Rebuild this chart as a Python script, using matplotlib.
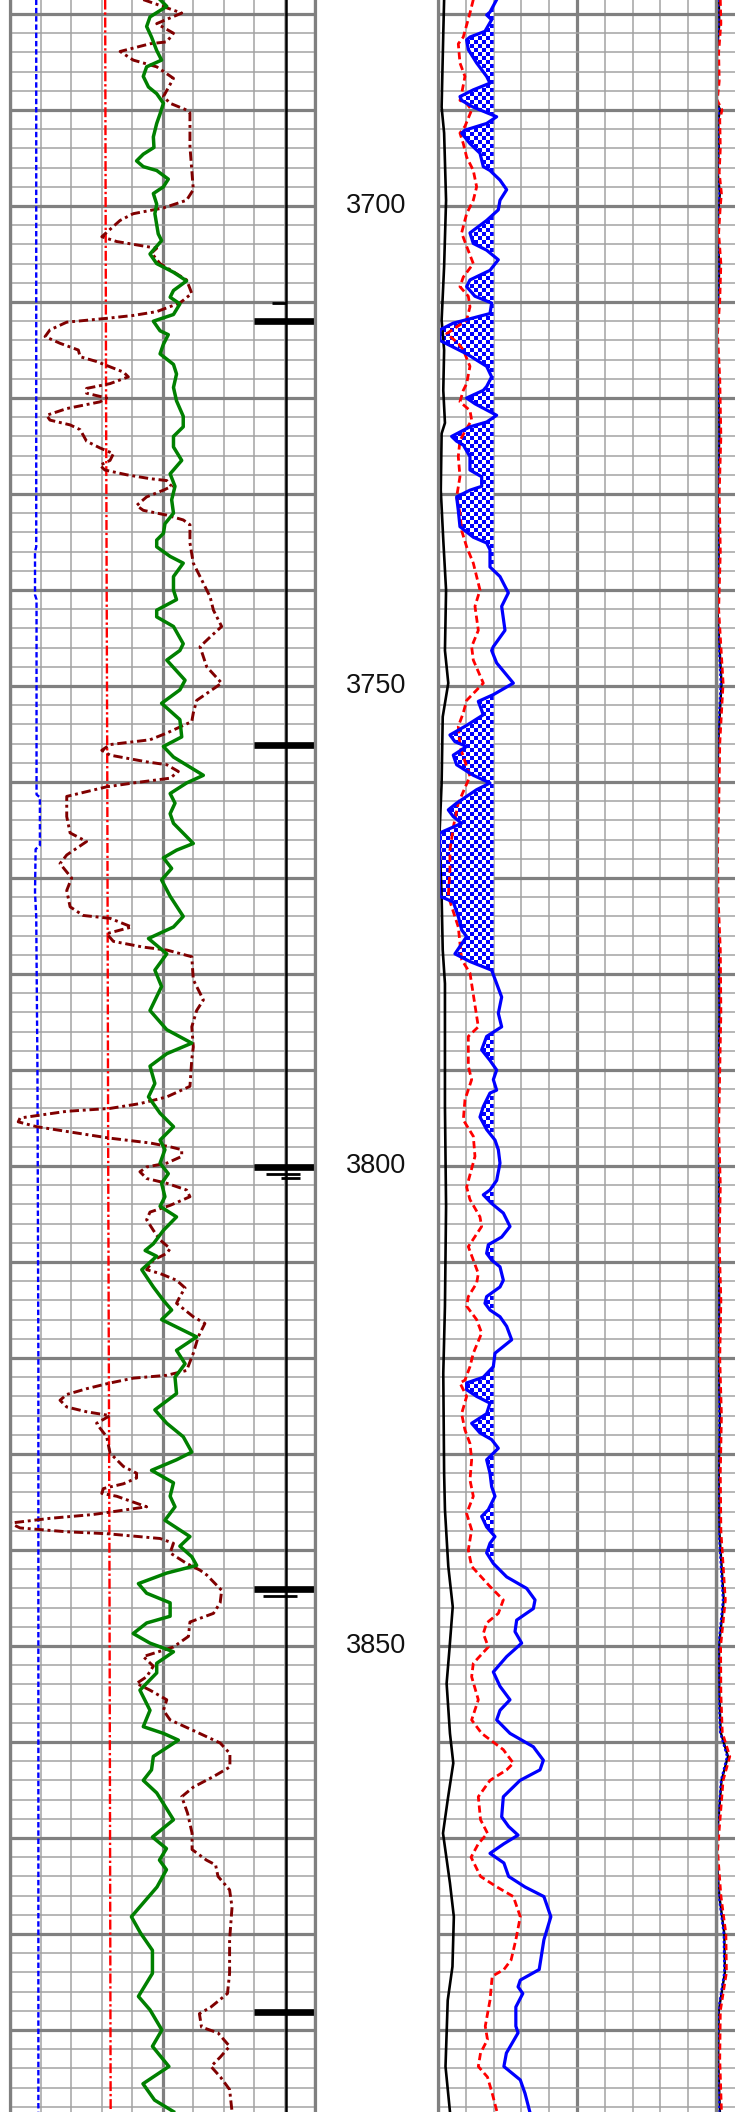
# Well log panel: left track (GR style curves), depth track, right track with shaded curve
import numpy as np
import matplotlib
matplotlib.use('Agg')
import matplotlib.pyplot as plt
from matplotlib.ticker import MultipleLocator
from matplotlib.path import Path

# depth window shown
top_depth = 3678.54
bottom_depth = 3898.54
depth_labels = [3700, 3750, 3800, 3850]

# ---- left track curves (value in track divisions 0-10) ----
# green solid curve: depth, value
green = np.array([
    [3678.5, 4.92], [3679.2, 5.14], [3680.3, 4.59], [3681.3, 4.48], [3682.4, 4.64],
    [3683.8, 4.81], [3684.8, 4.97], [3685.5, 4.48], [3686.5, 4.37], [3687.6, 4.54],
    [3688.3, 4.81], [3689.3, 5.03], [3690.4, 4.92], [3691.4, 4.81], [3692.8, 4.70],
    [3693.9, 4.72], [3694.6, 4.37], [3695.3, 4.15], [3695.9, 4.37], [3696.3, 4.81],
    [3697.2, 5.19], [3698.0, 5.03], [3698.7, 4.70], [3699.8, 4.81], [3700.8, 4.75],
    [3702.9, 4.86], [3703.6, 4.97], [3705.0, 4.59], [3706.0, 4.81], [3706.9, 5.36],
    [3707.8, 5.79], [3708.8, 5.36], [3709.5, 5.25], [3710.2, 5.57], [3711.3, 5.36],
    [3712.0, 4.70], [3713.0, 4.92], [3713.4, 5.19], [3714.4, 5.03], [3715.4, 4.92],
    [3716.5, 5.36], [3717.5, 5.46], [3718.9, 5.36], [3720.3, 5.46], [3721.9, 5.68],
    [3723.0, 5.68], [3724.0, 5.36], [3725.1, 5.36], [3726.5, 5.63], [3727.9, 5.25],
    [3729.2, 5.41], [3730.6, 5.30], [3732.0, 5.36], [3733.1, 5.08], [3734.1, 5.03],
    [3734.8, 4.81], [3735.5, 4.81], [3736.5, 5.25], [3737.2, 5.68], [3738.6, 5.36],
    [3740.0, 5.36], [3741.0, 5.46], [3742.1, 4.81], [3742.8, 4.81], [3743.8, 5.36],
    [3745.6, 5.68], [3746.3, 5.57], [3747.3, 5.14], [3749.4, 5.74], [3750.4, 5.57],
    [3751.8, 4.97], [3753.5, 5.57], [3755.3, 5.63], [3756.3, 5.03], [3757.4, 5.36],
    [3759.3, 6.34], [3760.1, 5.79], [3761.2, 5.25], [3762.2, 5.41], [3763.3, 5.25],
    [3764.3, 5.36], [3766.4, 6.01], [3767.1, 5.46], [3767.9, 5.03], [3769.0, 5.30],
    [3770.2, 4.97], [3771.9, 5.25], [3774.0, 5.68], [3775.1, 5.36], [3776.3, 4.54],
    [3777.9, 5.14], [3779.6, 4.75], [3781.3, 4.97], [3783.8, 4.59], [3785.8, 5.14],
    [3787.2, 5.96], [3788.3, 5.14], [3789.6, 4.59], [3791.4, 4.75], [3792.8, 4.54],
    [3794.5, 4.92], [3795.9, 5.36], [3797.3, 4.92], [3798.3, 5.08], [3799.7, 4.92],
    [3800.8, 5.19], [3801.8, 4.97], [3803.2, 5.08], [3804.2, 4.92], [3805.3, 5.46],
    [3806.7, 5.03], [3808.1, 4.70], [3808.8, 4.43], [3809.4, 4.81], [3810.8, 4.32],
    [3812.6, 4.70], [3814.0, 5.03], [3815.0, 5.30], [3816.0, 4.97], [3817.8, 6.12],
    [3819.2, 5.46], [3820.6, 5.74], [3822.0, 5.41], [3823.7, 5.46], [3825.4, 4.75],
    [3826.8, 5.14], [3828.2, 5.68], [3829.8, 5.96], [3830.6, 5.46], [3831.7, 4.64],
    [3833.0, 5.36], [3834.4, 5.25], [3835.5, 5.41], [3836.9, 5.08], [3838.6, 5.90],
    [3839.6, 5.57], [3840.7, 5.96], [3841.6, 6.12], [3842.4, 5.14], [3843.5, 4.21],
    [3844.5, 4.48], [3845.5, 5.25], [3846.9, 5.25], [3847.6, 4.48], [3848.7, 4.04],
    [3849.7, 4.59], [3850.6, 5.36], [3851.8, 4.81], [3852.8, 4.81], [3854.6, 4.26],
    [3856.7, 4.59], [3858.4, 4.37], [3859.1, 5.03], [3859.8, 5.52], [3861.5, 4.70],
    [3862.9, 4.64], [3864.0, 4.37], [3865.3, 4.81], [3868.1, 5.36], [3869.9, 4.67],
    [3871.1, 5.13], [3872.3, 4.90], [3873.3, 5.13], [3875.1, 4.82], [3876.5, 4.44],
    [3878.2, 3.98], [3879.9, 4.28], [3881.7, 4.67], [3884.1, 4.67], [3886.5, 4.21],
    [3887.9, 4.59], [3890.0, 4.98], [3891.7, 4.67], [3893.8, 5.21], [3895.6, 4.36],
    [3897.3, 4.74], [3898.5, 5.36]])

# dark red dash-dot curve: depth, value
maroon = np.array([
    [3678.5, 4.37], [3679.9, 5.63], [3681.0, 4.81], [3682.0, 5.36], [3682.9, 5.14],
    [3683.1, 4.59], [3683.9, 3.61], [3684.8, 4.04], [3685.5, 4.81], [3686.7, 5.36],
    [3688.6, 5.03], [3689.3, 5.25], [3690.0, 5.79], [3690.3, 5.90], [3693.8, 5.90],
    [3698.3, 6.01], [3699.4, 5.79], [3700.2, 5.03], [3700.8, 4.04], [3701.5, 3.61],
    [3703.2, 3.01], [3703.7, 3.50], [3704.1, 4.26], [3704.4, 4.81], [3704.9, 4.64],
    [3706.0, 4.92], [3707.7, 5.79], [3709.1, 5.96], [3710.1, 5.57], [3711.0, 4.81],
    [3711.4, 4.04], [3711.7, 3.17], [3712.1, 1.86], [3712.9, 1.31], [3713.6, 1.15],
    [3714.3, 1.64], [3715.0, 2.24], [3715.7, 2.30], [3716.2, 2.84], [3717.3, 3.72],
    [3717.8, 3.88], [3718.5, 3.28], [3719.0, 2.51], [3719.5, 2.51], [3720.0, 3.17],
    [3720.4, 2.95], [3721.1, 1.86], [3721.8, 1.20], [3722.3, 1.31], [3722.8, 1.97],
    [3723.3, 2.30], [3724.5, 2.51], [3725.2, 2.95], [3725.8, 3.39], [3726.5, 3.28],
    [3727.0, 2.95], [3727.5, 3.11], [3728.0, 3.83], [3728.4, 4.59], [3728.6, 5.14],
    [3729.2, 5.30], [3729.6, 5.03], [3730.3, 4.48], [3731.2, 4.15], [3731.7, 4.37],
    [3732.2, 5.14], [3732.7, 5.68], [3733.2, 5.90], [3735.1, 5.90], [3737.2, 6.01],
    [3739.3, 6.34], [3740.7, 6.56], [3742.1, 6.67], [3743.8, 6.94], [3744.9, 6.56],
    [3745.9, 6.23], [3748.0, 6.45], [3749.7, 6.94], [3751.5, 6.12], [3752.8, 6.01],
    [3753.7, 5.96], [3754.9, 5.14], [3755.6, 4.59], [3756.1, 3.28], [3756.7, 3.01],
    [3757.2, 3.28], [3757.9, 4.48], [3758.2, 5.14], [3758.9, 5.52], [3759.6, 5.25],
    [3760.1, 4.04], [3760.5, 3.17], [3761.5, 1.86], [3763.6, 1.86], [3765.3, 1.97],
    [3766.2, 2.51], [3767.6, 1.86], [3768.5, 1.64], [3770.0, 2.02], [3771.3, 1.86],
    [3773.0, 1.97], [3773.9, 2.40], [3774.2, 3.28], [3775.1, 3.99], [3775.8, 3.17],
    [3776.6, 3.39], [3777.2, 4.37], [3777.5, 5.14], [3778.2, 5.96], [3780.6, 6.01],
    [3782.7, 6.34], [3783.8, 6.12], [3785.5, 5.96], [3787.6, 6.01], [3788.9, 5.96],
    [3791.7, 5.90], [3792.8, 5.14], [3793.5, 4.26], [3794.0, 3.28], [3794.3, 1.86],
    [3795.0, 0.33], [3795.4, 0.27], [3795.9, 0.87], [3796.4, 1.86], [3797.1, 3.28],
    [3797.6, 4.59], [3798.0, 5.25], [3798.3, 5.63], [3799.0, 5.63], [3799.7, 5.14],
    [3800.1, 4.48], [3800.6, 4.26], [3801.3, 4.48], [3801.8, 5.14], [3802.5, 5.79],
    [3803.2, 5.90], [3804.1, 5.25], [3804.8, 4.59], [3805.6, 4.48], [3806.7, 4.70],
    [3807.7, 4.92], [3808.6, 5.25], [3809.1, 5.14], [3809.8, 4.70], [3810.8, 4.48],
    [3811.2, 4.92], [3811.9, 5.46], [3812.7, 5.74], [3813.6, 5.57], [3814.3, 5.46],
    [3815.7, 6.01], [3816.4, 6.39], [3817.8, 6.17], [3819.5, 6.01], [3821.3, 5.79],
    [3821.8, 5.14], [3822.1, 4.04], [3822.6, 3.28], [3823.2, 2.51], [3823.8, 1.86],
    [3824.4, 1.64], [3825.1, 1.86], [3825.6, 2.51], [3826.0, 3.28], [3826.8, 2.84],
    [3827.3, 2.95], [3828.2, 3.17], [3829.9, 3.28], [3831.3, 3.72], [3832.0, 4.15],
    [3832.5, 4.15], [3833.1, 3.72], [3833.6, 3.06], [3834.1, 3.01], [3834.4, 3.50],
    [3835.5, 4.48], [3835.8, 3.83], [3836.3, 2.73], [3836.7, 1.31], [3837.2, 0.00],
    [3837.7, 0.33], [3838.1, 1.86], [3838.3, 3.17], [3838.8, 4.92], [3839.3, 5.36],
    [3840.3, 5.25], [3841.4, 5.79], [3842.1, 6.23], [3842.6, 6.45], [3844.2, 6.94],
    [3845.5, 6.89], [3846.6, 6.67], [3847.5, 5.90], [3849.0, 5.85], [3850.1, 5.36],
    [3851.1, 4.37], [3852.1, 4.70], [3853.2, 4.48], [3853.9, 4.15], [3854.6, 4.59],
    [3855.6, 5.14], [3856.7, 5.03], [3857.7, 5.25], [3858.8, 6.01], [3860.1, 6.89],
    [3861.2, 7.21], [3862.6, 7.21], [3863.6, 6.67], [3864.7, 6.01], [3865.7, 5.63],
    [3867.4, 5.82], [3869.5, 5.97], [3871.2, 5.97], [3872.3, 6.44], [3872.8, 6.74],
    [3874.0, 6.82], [3875.4, 7.20], [3877.2, 7.28], [3880.6, 7.20], [3884.1, 7.20],
    [3886.2, 7.13], [3887.6, 6.59], [3888.3, 6.21], [3889.7, 6.28], [3890.3, 6.82],
    [3891.7, 7.20], [3892.8, 6.90], [3893.8, 6.59], [3894.9, 6.90], [3896.2, 7.20],
    [3898.5, 7.28]])

# blue dashed curve (left track)
lt_blue = np.array([
    [3678.5, 0.86], [3735.5, 0.86], [3736.0, 0.82], [3740.5, 0.82], [3741.0, 0.87],
    [3761.3, 0.87], [3761.6, 0.98], [3766.6, 0.98], [3767.0, 0.84], [3771.5, 0.82],
    [3774.0, 0.86], [3790.0, 0.90], [3820.0, 0.93], [3860.0, 0.93], [3898.5, 0.93]])

# red dash-dot curve (left track)
lt_red = np.array([
    [3678.5, 3.12], [3720.0, 3.15], [3760.0, 3.19], [3800.0, 3.22], [3840.0, 3.26],
    [3898.5, 3.30]])

# black line (left track) and its marks
lt_black = np.array([[3678.5, 9.05], [3898.5, 9.05]])
mark_depth = [3712.0, 3756.1, 3800.1, 3844.1, 3888.1]
small_mark_depth = [3710.1, 3800.8, 3801.3, 3844.8]
small_mark_left = [8.6, 8.4, 8.9, 8.3]
small_mark_right = [9.05, 9.5, 9.5, 9.4]

# ---- right track curves (value in track divisions 0-10) ----
rt_black = np.array([
    [3678.5, 0.22], [3682.0, 0.19], [3689.7, 0.13], [3692.4, 0.22], [3699.4, 0.29],
    [3706.3, 0.22], [3711.9, 0.13], [3715.0, 0.22], [3719.2, 0.19], [3722.6, 0.25],
    [3723.7, 0.13], [3729.6, 0.10], [3734.8, 0.19], [3740.0, 0.29], [3746.3, 0.25],
    [3749.7, 0.37], [3753.2, 0.17], [3760.1, 0.13], [3765.7, 0.05], [3771.9, 0.13],
    [3777.5, 0.17], [3781.0, 0.25], [3786.9, 0.25], [3793.8, 0.25], [3804.2, 0.29],
    [3814.6, 0.25], [3821.6, 0.19], [3832.0, 0.22], [3835.8, 0.25], [3841.7, 0.37],
    [3845.9, 0.53], [3850.4, 0.41], [3853.9, 0.31], [3859.1, 0.43], [3862.2, 0.55],
    [3866.0, 0.35], [3869.5, 0.18], [3874.7, 0.43], [3878.2, 0.57], [3883.4, 0.52],
    [3886.9, 0.35], [3893.8, 0.27], [3898.5, 0.43]])

rt_red = np.array([
    [3678.5, 1.27], [3679.9, 1.15], [3682.4, 0.91], [3683.1, 0.73], [3685.1, 0.79],
    [3686.5, 0.97], [3688.3, 0.85], [3689.0, 0.79], [3689.3, 1.03], [3690.0, 1.21],
    [3691.7, 0.97], [3692.4, 0.79], [3693.5, 0.91], [3694.9, 1.03], [3696.3, 1.27],
    [3698.0, 1.39], [3699.4, 1.27], [3700.8, 1.03], [3702.8, 0.85], [3704.2, 1.03],
    [3706.0, 1.27], [3707.4, 0.91], [3708.4, 0.79], [3709.4, 1.09], [3710.5, 1.15],
    [3711.9, 1.03], [3713.3, 0.31], [3714.3, 0.73], [3715.0, 0.91], [3716.7, 1.15],
    [3718.5, 1.03], [3719.2, 0.91], [3720.4, 0.79], [3721.3, 1.15], [3722.3, 1.21],
    [3724.4, 0.79], [3726.1, 0.73], [3728.2, 0.79], [3730.3, 0.67], [3732.0, 0.79],
    [3733.8, 0.85], [3735.5, 1.03], [3737.2, 1.27], [3740.0, 1.51], [3741.7, 1.33],
    [3744.2, 1.45], [3745.9, 1.21], [3747.3, 1.27], [3749.7, 1.63], [3751.5, 1.03],
    [3752.8, 0.91], [3754.2, 0.73], [3756.3, 0.79], [3759.4, 1.15], [3762.2, 0.73],
    [3764.7, 0.55], [3767.1, 0.43], [3769.2, 0.43], [3771.9, 0.37], [3775.1, 0.73],
    [3778.5, 0.85], [3779.9, 1.15], [3785.5, 1.45], [3786.5, 1.09], [3789.6, 1.09],
    [3791.0, 1.21], [3793.1, 0.97], [3795.2, 0.91], [3796.9, 1.27], [3799.0, 1.33],
    [3802.2, 1.03], [3803.5, 1.15], [3805.3, 1.51], [3806.3, 1.57], [3808.4, 1.09],
    [3809.8, 1.27], [3811.2, 1.45], [3812.2, 1.39], [3813.6, 1.09], [3814.6, 1.03],
    [3816.0, 1.39], [3817.4, 1.57], [3819.5, 1.27], [3820.9, 1.15], [3822.3, 0.97],
    [3822.6, 0.79], [3824.0, 1.03], [3825.8, 0.85], [3827.5, 0.97], [3828.9, 1.15],
    [3830.6, 1.21], [3832.7, 1.15], [3834.4, 1.27], [3836.2, 1.03], [3837.9, 1.21],
    [3840.0, 1.09], [3841.7, 1.21], [3843.8, 1.87], [3845.2, 2.35], [3846.6, 2.17],
    [3847.6, 1.75], [3848.7, 1.63], [3850.1, 1.81], [3851.8, 1.27], [3853.2, 1.21],
    [3855.6, 1.45], [3857.7, 1.21], [3859.1, 1.57], [3860.8, 2.35], [3862.2, 2.71],
    [3862.9, 2.47], [3864.0, 1.87], [3865.7, 1.45], [3868.1, 1.53], [3869.5, 1.78],
    [3870.6, 1.45], [3872.0, 1.19], [3874.0, 1.53], [3875.1, 2.12], [3876.1, 2.71],
    [3878.2, 2.96], [3880.6, 2.80], [3882.7, 2.63], [3883.7, 2.37], [3884.4, 1.95],
    [3886.9, 1.87], [3889.6, 1.70], [3891.0, 1.78], [3892.4, 1.53], [3893.8, 1.45],
    [3894.9, 1.78], [3896.6, 1.95], [3898.5, 2.12]])

rt_blue = np.array([
    [3678.5, 2.11], [3679.8, 1.87], [3680.1, 1.75], [3680.6, 1.93], [3681.8, 1.69],
    [3682.4, 1.15], [3682.7, 1.03], [3683.7, 1.09], [3685.1, 1.39], [3686.5, 1.75],
    [3687.2, 1.87], [3687.9, 1.27], [3688.6, 0.79], [3689.0, 0.85], [3689.7, 1.27],
    [3690.7, 2.11], [3691.4, 1.75], [3692.1, 0.97], [3692.4, 0.85], [3693.5, 1.15],
    [3694.5, 1.51], [3695.9, 1.63], [3696.3, 1.87], [3697.3, 2.23], [3698.3, 2.47],
    [3699.4, 2.23], [3700.4, 2.17], [3701.5, 1.75], [3702.8, 1.15], [3703.9, 1.27],
    [3704.6, 1.75], [3705.6, 2.17], [3706.7, 1.87], [3707.7, 1.15], [3708.4, 1.03],
    [3709.4, 1.33], [3710.1, 1.93], [3711.2, 1.87], [3712.2, 0.55], [3712.9, 0.07],
    [3714.0, 0.07], [3714.7, 0.55], [3715.4, 1.03], [3716.7, 1.75], [3717.8, 1.93],
    [3718.8, 1.75], [3719.2, 1.63], [3720.0, 1.03], [3720.6, 1.33], [3721.8, 2.11],
    [3722.5, 1.75], [3723.0, 1.15], [3724.0, 0.49], [3724.5, 0.67], [3724.9, 0.91],
    [3726.1, 1.15], [3727.5, 1.15], [3728.2, 1.57], [3729.2, 1.57], [3729.6, 1.15],
    [3730.3, 0.67], [3731.7, 0.73], [3733.4, 0.79], [3734.5, 1.27], [3735.1, 1.75],
    [3735.8, 1.87], [3737.6, 1.87], [3738.6, 2.23], [3740.3, 2.53], [3741.7, 2.29],
    [3744.2, 2.41], [3745.9, 1.99], [3746.3, 1.93], [3747.6, 2.11], [3749.7, 2.71],
    [3750.9, 1.99], [3751.6, 1.45], [3753.0, 1.63], [3754.1, 1.03], [3755.1, 0.43],
    [3755.8, 0.61], [3756.3, 1.03], [3757.2, 0.55], [3758.2, 0.67], [3759.3, 1.27],
    [3760.1, 1.87], [3760.8, 1.39], [3762.2, 0.67], [3762.9, 0.37], [3763.6, 0.55],
    [3764.3, 0.85], [3765.3, 0.07], [3767.1, 0.05], [3770.6, 0.05], [3771.9, 0.07],
    [3772.5, 0.55], [3774.0, 0.73], [3775.4, 0.85], [3776.1, 1.03], [3777.9, 0.61],
    [3778.7, 1.15], [3779.6, 1.93], [3782.4, 2.29], [3784.1, 2.17], [3785.5, 2.29],
    [3786.5, 1.75], [3787.9, 1.57], [3789.0, 1.87], [3790.0, 2.11], [3791.0, 1.99],
    [3792.1, 2.11], [3792.4, 1.87], [3793.8, 1.63], [3794.9, 1.51], [3796.2, 1.75],
    [3797.3, 2.05], [3798.3, 2.17], [3799.7, 2.23], [3801.5, 2.11], [3802.5, 1.87],
    [3803.0, 1.63], [3803.9, 1.93], [3804.9, 2.35], [3806.3, 2.59], [3807.4, 2.29],
    [3808.2, 1.81], [3809.1, 1.75], [3809.8, 1.93], [3810.5, 2.23], [3811.9, 2.35],
    [3812.6, 2.23], [3813.6, 1.75], [3814.3, 1.69], [3815.0, 1.87], [3815.7, 2.23],
    [3816.7, 2.47], [3818.1, 2.65], [3819.5, 2.05], [3820.9, 1.99], [3822.0, 1.63],
    [3822.6, 1.03], [3823.3, 1.03], [3824.0, 1.39], [3824.7, 1.87], [3825.8, 1.75],
    [3826.8, 1.21], [3827.8, 1.51], [3828.5, 1.93], [3829.4, 2.17], [3830.6, 1.75],
    [3832.0, 1.87], [3833.4, 1.93], [3834.4, 2.05], [3835.8, 1.81], [3836.5, 1.57],
    [3837.6, 1.75], [3838.6, 2.05], [3839.3, 1.87], [3840.3, 1.75], [3841.4, 1.99],
    [3842.8, 2.47], [3844.0, 3.19], [3845.2, 3.49], [3846.1, 3.43], [3847.3, 2.83],
    [3848.5, 2.77], [3849.7, 3.01], [3851.1, 2.47], [3852.7, 1.99], [3854.2, 2.23],
    [3855.6, 2.59], [3856.7, 2.23], [3857.7, 2.11], [3859.1, 2.59], [3860.5, 3.43],
    [3861.9, 3.79], [3862.9, 3.67], [3864.0, 2.95], [3865.7, 2.35], [3867.8, 2.29],
    [3868.8, 2.54], [3869.7, 2.88], [3870.6, 2.37], [3871.6, 1.87], [3872.6, 2.37],
    [3874.0, 2.54], [3875.1, 3.13], [3876.1, 3.81], [3878.2, 4.06], [3880.6, 3.81],
    [3883.7, 3.64], [3884.8, 2.96], [3885.5, 2.88], [3886.2, 3.05], [3887.6, 2.80],
    [3889.6, 2.80], [3890.3, 2.88], [3892.4, 2.46], [3893.8, 2.37], [3895.2, 2.96],
    [3896.6, 3.13], [3898.5, 3.30]])
blue_cutoff = 2.0

# ---- far right track (only its left edge is visible) ----
far_depth = [3678.5, 3681.0, 3684.0, 3687.0, 3689.0, 3690.0, 3691.0, 3694.0, 3696.5, 3698.7,
             3700.0, 3702.8, 3706.0, 3709.8, 3713.3, 3718.0, 3724.0, 3730.0, 3736.0, 3742.0,
             3749.7, 3756.0, 3763.0, 3767.0, 3772.0, 3777.5, 3784.0, 3790.0, 3796.0, 3802.0,
             3808.0, 3814.0, 3820.0, 3826.0, 3832.0, 3838.0, 3845.2, 3850.0, 3855.0, 3859.0,
             3861.5, 3864.0, 3871.3, 3876.0, 3880.0, 3884.0, 3888.0, 3893.0, 3898.5]
far_black = [0.10, 0.12, 0.03, 0.05, 0.00, 0.15, 0.08, 0.10, 0.06, 0.14,
             0.10, 0.04, 0.12, 0.08, 0.00, 0.08, 0.12, 0.06, 0.10, 0.05,
             0.20, 0.08, 0.04, 0.00, 0.02, 0.10, 0.12, 0.08, 0.05, 0.10,
             0.06, 0.12, 0.08, 0.14, 0.10, 0.12, 0.28, 0.11, 0.12, 0.17,
             0.43, 0.20, 0.00, 0.12, 0.30, 0.32, 0.10, 0.08, 0.14]
far_red = [0.16, 0.18, 0.10, 0.12, 0.05, 0.22, 0.14, 0.16, 0.12, 0.20,
           0.16, 0.10, 0.18, 0.14, 0.06, 0.14, 0.18, 0.12, 0.16, 0.10,
           0.26, 0.14, 0.10, 0.06, 0.08, 0.16, 0.18, 0.14, 0.10, 0.16,
           0.12, 0.18, 0.14, 0.20, 0.16, 0.18, 0.34, 0.17, 0.18, 0.23,
           0.50, 0.26, 0.06, 0.18, 0.36, 0.38, 0.16, 0.14, 0.20]
far_blue = [0.08, 0.10, 0.02, 0.04, 0.00, 0.12, 0.06, 0.08, 0.05, 0.12,
            0.08, 0.03, 0.10, 0.06, 0.00, 0.06, 0.10, 0.05, 0.08, 0.04,
            0.17, 0.06, 0.03, 0.00, 0.02, 0.08, 0.10, 0.06, 0.04, 0.08,
            0.05, 0.10, 0.06, 0.12, 0.08, 0.10, 0.25, 0.09, 0.10, 0.15,
            0.40, 0.18, 0.00, 0.10, 0.28, 0.30, 0.08, 0.06, 0.12]

GRID_THICK = '#808080'
GRID_THIN = '#a3a3a3'


def setup_track(ax):
    ax.set_xlim(0, 10)
    ax.set_ylim(bottom_depth, top_depth)
    ax.xaxis.set_major_locator(MultipleLocator(5))
    ax.xaxis.set_minor_locator(MultipleLocator(1))
    ax.yaxis.set_major_locator(MultipleLocator(10))
    ax.yaxis.set_minor_locator(MultipleLocator(2))
    ax.grid(which='major', color=GRID_THICK, lw=2.3)
    ax.grid(which='minor', color=GRID_THIN, lw=1.1)
    ax.set_axisbelow(True)
    ax.tick_params(which='both', length=0, labelbottom=False, labelleft=False)
    for side in ['top', 'bottom']:
        ax.spines[side].set_visible(False)
    for side in ['left', 'right']:
        ax.spines[side].set_color(GRID_THICK)
        ax.spines[side].set_linewidth(2.3)


W, H = 735, 2112
fig = plt.figure(figsize=(W / 100, H / 100), dpi=100)

ax_l = fig.add_axes([10 / W, 0, 305 / W, 1])
ax_d = fig.add_axes([315 / W, 0, 123 / W, 1])
ax_far = fig.add_axes([716 / W, 0, 278 / W, 1])
ax_r = fig.add_axes([438 / W, 0, 278 / W, 1])

for ax in (ax_l, ax_r, ax_far):
    setup_track(ax)

# left track
ax_l.plot(lt_blue[:, 1], lt_blue[:, 0], color='#0000ff', lw=1.7, dashes=(2.3, 1.2))
ax_l.plot(lt_red[:, 1], lt_red[:, 0], color='#ff0000', lw=1.7, dashes=(4.2, 1.2, 1, 1.2))
ax_l.plot(lt_black[:, 1], lt_black[:, 0], color='black', lw=1.8)
ax_l.hlines(mark_depth, 8.0, 10.0, color='black', lw=4.8)
ax_l.hlines(small_mark_depth, small_mark_left, small_mark_right, color='black', lw=2.0)
ax_l.plot(maroon[:, 1], maroon[:, 0], color='#800000', lw=2.1,
          dashes=(3.2, 1.3, 1, 1.3), solid_joinstyle='round')
ax_l.plot(green[:, 1], green[:, 0], color='#008000', lw=2.5, solid_joinstyle='round')

# depth track
ax_d.set_xlim(0, 1)
ax_d.set_ylim(bottom_depth, top_depth)
ax_d.axis('off')
for d in depth_labels:
    ax_d.text(0.5, d, str(d), ha='center', va='center', fontsize=19.5,
              family=['Liberation Sans', 'DejaVu Sans'], color='#111111')

# right track: checkered fill where blue curve is left of the cutoff
shade = ax_r.fill_betweenx(rt_blue[:, 0], rt_blue[:, 1], blue_cutoff,
                           where=rt_blue[:, 1] < blue_cutoff, interpolate=True,
                           facecolor='none', edgecolor='none')
nrows, ncols = 528, 70
checker = np.add.outer(np.arange(nrows), np.arange(ncols)) % 2
rgba = np.zeros((nrows, ncols, 4))
rgba[checker == 1] = [0, 0, 1, 1]
rgba[checker == 0] = [1, 1, 1, 1]
im = ax_r.imshow(rgba, extent=(0, 10, bottom_depth, top_depth), aspect='auto',
                 interpolation='nearest', zorder=1.5)
clip = Path.make_compound_path(*shade.get_paths())
im.set_clip_path(clip, transform=ax_r.transData)
ax_r.set_xlim(0, 10)
ax_r.set_ylim(bottom_depth, top_depth)

ax_r.plot(rt_black[:, 1], rt_black[:, 0], color='black', lw=1.9)
ax_r.plot(rt_red[:, 1], rt_red[:, 0], color='#ff0000', lw=2.0, dashes=(2.6, 1.4))
ax_r.plot(rt_blue[:, 1], rt_blue[:, 0], color='#0000ff', lw=2.3, solid_joinstyle='round')

# far right track
ax_far.plot(far_black, far_depth, color='black', lw=1.7)
ax_far.plot(far_blue, far_depth, color='#0000ff', lw=1.7, dashes=(1, 1))
ax_far.plot(far_red, far_depth, color='#ff0000', lw=1.8, dashes=(2.5, 1.5))

fig.savefig('out.png', dpi=100)
